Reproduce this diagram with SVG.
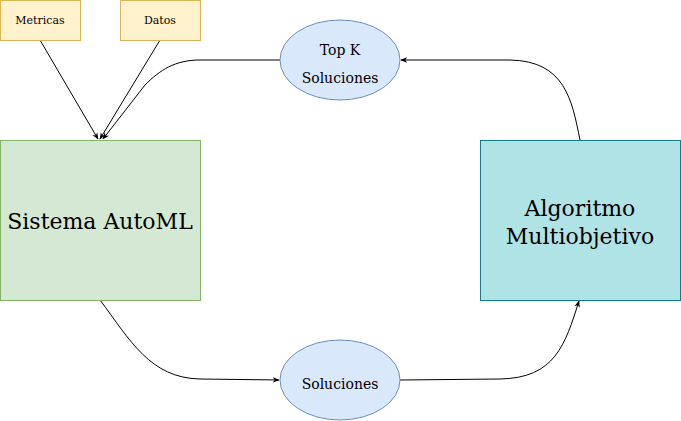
<svg xmlns="http://www.w3.org/2000/svg" width="681" height="421" viewBox="0 0 681 421">
<style>
text{font-family:"DejaVu Serif","Liberation Serif",serif;fill:#000;text-anchor:middle}
.y{fill:#fff2cc;stroke:#d6b656}
.e{fill:#dae8fc;stroke:#6c8ebf}
.c{fill:none;stroke:#000;stroke-width:1}
</style>
<defs>
<marker id="a" viewBox="0 0 10 10" refX="9" refY="5" markerWidth="7" markerHeight="7" orient="auto" markerUnits="userSpaceOnUse">
<path d="M0,1 L10,5 L0,9 L3,5 Z" fill="#000"/>
</marker>
</defs>
<rect width="681" height="421" fill="#fff"/>
<g id="connectors">
<path class="c" d="M40,40 L98,139" marker-end="url(#a)"/>
<path class="c" d="M160,40 L100,139" marker-end="url(#a)"/>
<path class="c" d="M280,60 L200,60 C175,60 160,70 145,85 L103,139" marker-end="url(#a)"/>
<path class="c" d="M100,300 C130,340 150,378 200,379 L279,380" marker-end="url(#a)"/>
<path class="c" d="M400,380 L500,379 C555,378 565,345 579,301" marker-end="url(#a)"/>
<path class="c" d="M580,140 C572,100 565,61 510,60 L401,60" marker-end="url(#a)"/>
</g>
<g id="metricas"><rect class="y" x="0.5" y="0.5" width="80" height="40"/><text x="40" y="24" font-size="11">Metricas</text></g>
<g id="datos"><rect class="y" x="120.5" y="0.5" width="80" height="40"/><text x="160" y="24" font-size="11">Datos</text></g>
<g id="sistema"><rect x="0.5" y="140.5" width="200" height="160" fill="#d5e8d4" stroke="#82b366"/><text x="100" y="229" font-size="22">Sistema AutoML</text></g>
<g id="algoritmo"><rect x="480.5" y="140.5" width="200" height="160" fill="#b0e3e6" stroke="#0e8088"/><text x="580" y="216" font-size="22">Algoritmo</text><text x="580" y="244" font-size="22">Multiobjetivo</text></g>
<g id="topk"><ellipse class="e" cx="340" cy="60" rx="60" ry="40"/><text x="340" y="55" font-size="14">Top K</text><text x="340" y="83" font-size="14">Soluciones</text></g>
<g id="soluciones"><ellipse class="e" cx="340" cy="380" rx="60" ry="40"/><text x="340" y="389" font-size="14">Soluciones</text></g>
</svg>
